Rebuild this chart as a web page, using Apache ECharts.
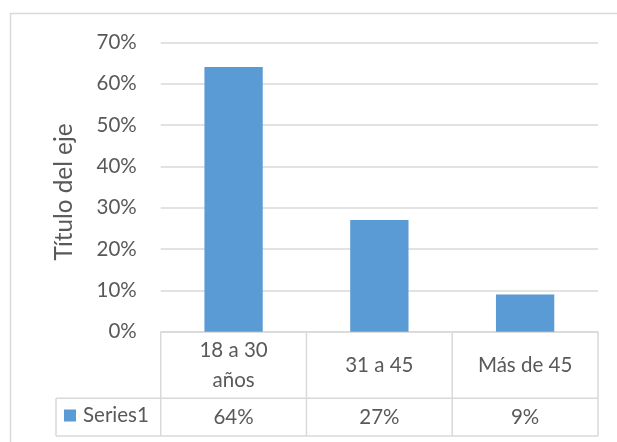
<!DOCTYPE html>
<html>
<head>
<meta charset="utf-8">
<script src="https://cdn.jsdelivr.net/npm/echarts@6/dist/echarts.min.js"></script>
<style>
  html, body { margin: 0; padding: 0; background: #fff; }
  #chart { width: 617px; height: 442px; }
</style>
</head>
<body>
<div id="chart"></div>
<script>
// Age groups and their share of respondents
const categories = ['18 a 30\naños', '31 a 45', 'Más de 45'];
const seriesName = 'Series1';
const values = [0.64, 0.27, 0.09];
const yTicks = { min: 0, max: 0.7, interval: 0.1 };
const axisTitle = 'Título del eje';

const FONT = 'Lato, "Open Sans", sans-serif';
const TEXT = '#595959';
const LINE = '#d9d9d9';
const BLUE = '#5B9BD5';

// plot area and data-table geometry
const W = 617, H = 442;
const plotL = 160.7, plotR = 598, plotT = 42.3, plotB = 331.7;
const rowSplit = 398.3, tableB = 436, legendCellL = 56;

const pct = v => Math.round(v * 100) + '%';

const chart = echarts.init(document.getElementById('chart'), null, { renderer: 'canvas' });

const band = (plotR - plotL) / categories.length;
const tableLines = [];
const seg = (x1, y1, x2, y2) => tableLines.push({
  type: 'line', silent: true,
  shape: { x1, y1, x2, y2 },
  style: { stroke: LINE, lineWidth: 1.5 }
});
// horizontal rules
seg(plotL, plotB, plotR, plotB);
seg(legendCellL, rowSplit, plotR, rowSplit);
seg(legendCellL, tableB, plotR, tableB);
// vertical rules
seg(legendCellL, rowSplit, legendCellL, tableB);
for (let i = 0; i <= categories.length; i++) {
  const x = plotL + band * i;
  seg(x, plotB, x, tableB);
}

chart.setOption({
  animation: false,
  backgroundColor: '#fff',
  textStyle: { fontFamily: FONT },
  grid: {
    left: plotL, right: W - plotR, top: plotT, bottom: H - plotB,
    containLabel: false, outerBoundsMode: 'none'
  },
  legend: {
    data: [seriesName],
    left: 64, top: 405, padding: 0,
    itemWidth: 12, itemHeight: 12, itemGap: 6,
    icon: 'rect',
    textStyle: { color: TEXT, fontSize: 20.5, fontFamily: FONT, padding: [0, 0, 0, 2] }
  },
  xAxis: [
    {
      type: 'category',
      data: categories,
      axisLine: { show: false },
      axisTick: { show: false },
      axisLabel: {
        color: TEXT, fontSize: 20.5, fontFamily: FONT,
        lineHeight: 30, margin: 33.5, verticalAlign: 'middle',
        interval: 0
      }
    },
    {
      type: 'category',
      position: 'bottom',
      data: categories,
      axisLine: { show: false },
      axisTick: { show: false },
      axisLabel: {
        color: TEXT, fontSize: 20.5, fontFamily: FONT,
        margin: 85.5, verticalAlign: 'middle', interval: 0,
        formatter: (v, i) => pct(values[i])
      }
    }
  ],
  yAxis: {
    type: 'value',
    min: yTicks.min, max: yTicks.max, interval: yTicks.interval,
    name: axisTitle,
    nameLocation: 'middle',
    nameGap: 84.5,
    nameTextStyle: { color: TEXT, fontSize: 24.3, fontFamily: FONT, padding: [0, 10, 0, 0] },
    axisLine: { show: false },
    axisTick: { show: false },
    axisLabel: {
      color: TEXT, fontSize: 20.5, fontFamily: FONT, margin: 24,
      formatter: v => pct(v)
    },
    splitLine: { lineStyle: { color: LINE, width: 1.5 } }
  },
  series: [{
    name: seriesName,
    type: 'bar',
    data: values,
    barWidth: '40%',
    itemStyle: { color: BLUE }
  }],
  graphic: [
    {
      type: 'rect', silent: true,
      shape: { x: 10.5, y: 13.5, width: 700, height: 600 },
      style: { fill: 'none', stroke: LINE, lineWidth: 1.5 }
    },
    ...tableLines
  ]
});
</script>
</body>
</html>
